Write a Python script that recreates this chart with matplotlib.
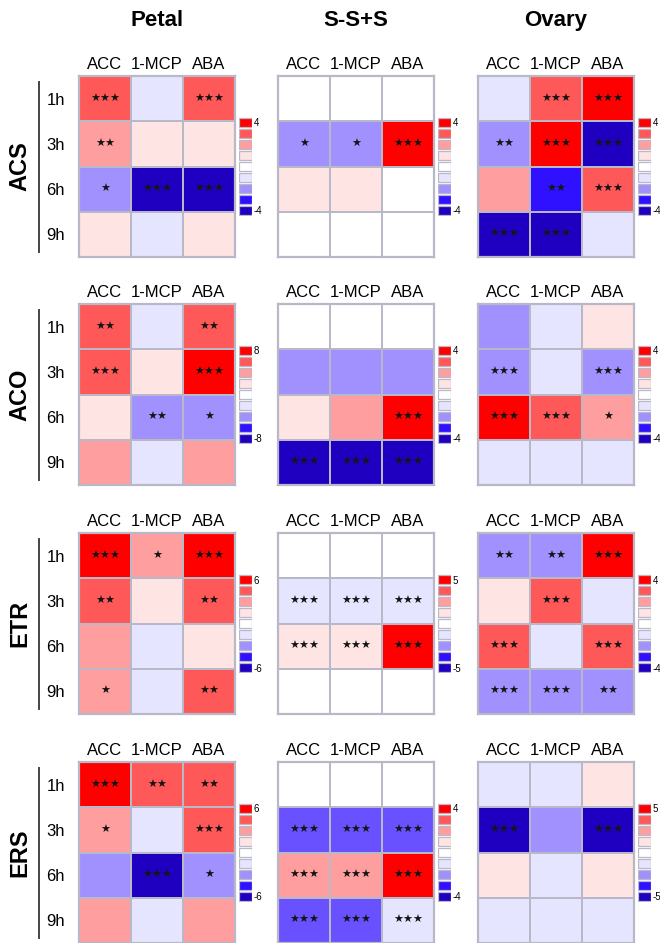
import numpy as np
import matplotlib
matplotlib.use('Agg')
import matplotlib.pyplot as plt
from matplotlib.colors import LinearSegmentedColormap, Normalize

plt.rcParams['font.family'] = ['Liberation Sans', 'DejaVu Sans']

tissues = ['Petal', 'S-S+S', 'Ovary']
genes = ['ACS', 'ACO', 'ETR', 'ERS']
treatments = ['ACC', '1-MCP', 'ABA']
times = ['1h', '3h', '6h', '9h']

# colour level of each cell (-4 .. 4), rows = times, cols = treatments
acs_petal = [[3, -1, 3], [2, 1, 1], [-2, -4, -4], [1, -1, 1]]
acs_ssps = [[0, 0, 0], [-2, -2, 4], [1, 1, 0], [0, 0, 0]]
acs_ovary = [[-1, 3, 4], [-2, 4, -4], [2, -3, 3], [-4, -4, -1]]

aco_petal = [[3, -1, 3], [3, 1, 4], [1, -2, -2], [2, -1, 2]]
aco_ssps = [[0, 0, 0], [-2, -2, -2], [1, 2, 4], [-4, -4, -4]]
aco_ovary = [[-2, -1, 1], [-2, -1, -2], [4, 3, 2], [-1, -1, -1]]

etr_petal = [[4, 2, 4], [3, 1, 3], [2, -1, 1], [2, -1, 3]]
etr_ssps = [[0, 0, 0], [-1, -1, -1], [1, 1, 4], [0, 0, 0]]
etr_ovary = [[-2, -2, 4], [1, 3, -1], [3, -1, 3], [-2, -2, -2]]

ers_petal = [[4, 3, 3], [2, -1, 3], [-2, -4, -2], [2, -1, 2]]
ers_ssps = [[0, 0, 0], [-2.5, -2.5, -2.5], [2, 2, 4], [-2.5, -2.5, -1]]
ers_ovary = [[-1, -1, 1], [-4, -2, -4], [1, -1, 1], [-1, -1, -1]]

# significance stars
acs_petal_sig = [['***', '', '***'], ['**', '', ''], ['*', '***', '***'], ['', '', '']]
acs_ssps_sig = [['', '', ''], ['*', '*', '***'], ['', '', ''], ['', '', '']]
acs_ovary_sig = [['', '***', '***'], ['**', '***', '***'], ['', '**', '***'], ['***', '***', '']]

aco_petal_sig = [['**', '', '**'], ['***', '', '***'], ['', '**', '*'], ['', '', '']]
aco_ssps_sig = [['', '', ''], ['', '', ''], ['', '', '***'], ['***', '***', '***']]
aco_ovary_sig = [['', '', ''], ['***', '', '***'], ['***', '***', '*'], ['', '', '']]

etr_petal_sig = [['***', '*', '***'], ['**', '', '**'], ['', '', ''], ['*', '', '**']]
etr_ssps_sig = [['', '', ''], ['***', '***', '***'], ['***', '***', '***'], ['', '', '']]
etr_ovary_sig = [['**', '**', '***'], ['', '***', ''], ['***', '', '***'], ['***', '***', '**']]

ers_petal_sig = [['***', '**', '**'], ['*', '', '***'], ['', '***', '*'], ['', '', '']]
ers_ssps_sig = [['', '', ''], ['***', '***', '***'], ['***', '***', '***'], ['***', '***', '***']]
ers_ovary_sig = [['', '', ''], ['***', '', '***'], ['', '', ''], ['', '', '']]

# colour bar range shown for each panel
scale_max = [[4, 4, 4], [8, 4, 4], [6, 5, 4], [6, 4, 5]]

values = [[acs_petal, acs_ssps, acs_ovary],
          [aco_petal, aco_ssps, aco_ovary],
          [etr_petal, etr_ssps, etr_ovary],
          [ers_petal, ers_ssps, ers_ovary]]
stars = [[acs_petal_sig, acs_ssps_sig, acs_ovary_sig],
         [aco_petal_sig, aco_ssps_sig, aco_ovary_sig],
         [etr_petal_sig, etr_ssps_sig, etr_ovary_sig],
         [ers_petal_sig, ers_ssps_sig, ers_ovary_sig]]

levels = np.arange(-4, 5)
colours = ['#2000c0', '#3010ff', '#a090ff', '#e5e5ff', '#ffffff',
           '#ffe5e5', '#ffa0a0', '#ff5a5a', '#ff0000']
cmap = LinearSegmentedColormap.from_list('bwr9', colours)
norm = Normalize(vmin=-4, vmax=4)

W, H = 660, 943
fig = plt.figure(figsize=(W / 100, H / 100), dpi=100)

col_left = [79, 278, 478]
row_top = [76, 304, 533, 762]
hw, hh = 156, 181
edge = '#b8b8c8'


def px_axes(x, y, w, h):
    return fig.add_axes([x / W, 1 - (y + h) / H, w / W, h / H])


for j, t in enumerate(tissues):
    fig.text((col_left[j] + hw / 2) / W, 1 - 26 / H, t, ha='center', va='baseline',
             fontsize=16, fontweight='bold')

for i, g in enumerate(genes):
    for j in range(3):
        ax = px_axes(col_left[j], row_top[i], hw, hh)
        z = np.array(values[i][j], dtype=float)
        ax.pcolormesh(z, cmap=cmap, norm=norm, edgecolors=edge, linewidth=1.4)
        ax.set_xlim(0, 3)
        ax.set_ylim(4, 0)
        for r in range(4):
            for c in range(3):
                s = stars[i][j][r][c]
                if s:
                    ax.text(c + 0.5, r + 0.5, s.replace('*', '\u2605'), ha='center', va='center',
                            fontsize=8, family='DejaVu Sans', color='#151515')
        ax.xaxis.tick_top()
        ax.set_xticks(np.arange(3) + 0.5)
        ax.set_xticklabels(treatments, fontsize=12)
        ax.tick_params(axis='x', length=0, pad=3)
        if j == 0:
            ax.set_yticks(np.arange(4) + 0.5)
            ax.set_yticklabels(times, fontsize=12)
            ax.tick_params(axis='y', length=0, pad=10)
            ax.plot([-0.256, -0.256], [0.028, 0.967], transform=ax.transAxes,
                    color='#444444', lw=1.4, clip_on=False)
            ax.text(-0.38, 0.5, g, transform=ax.transAxes, rotation=90,
                    ha='center', va='center', fontsize=17, fontweight='bold')
        else:
            ax.set_yticks([])
        for sp in ax.spines.values():
            sp.set_color(edge)
            sp.set_linewidth(1.6)

        # discrete colour key
        cax = px_axes(col_left[j] + hw + 4, row_top[i] + 41, 13, 99)
        cax.barh(levels, np.ones(len(levels)), height=0.84, color=[cmap(norm(v)) for v in levels],
                 edgecolor=edge, linewidth=0.9)
        cax.set_xlim(0, 1)
        cax.set_ylim(-4.5, 4.5)
        cax.set_xticks([])
        m = scale_max[i][j]
        cax.yaxis.tick_right()
        cax.set_yticks([4, -4])
        cax.set_yticklabels([str(m), str(-m)], fontsize=7)
        cax.tick_params(axis='y', length=0, pad=1)
        for sp in cax.spines.values():
            sp.set_visible(False)

fig.savefig('out.png', dpi=100)
